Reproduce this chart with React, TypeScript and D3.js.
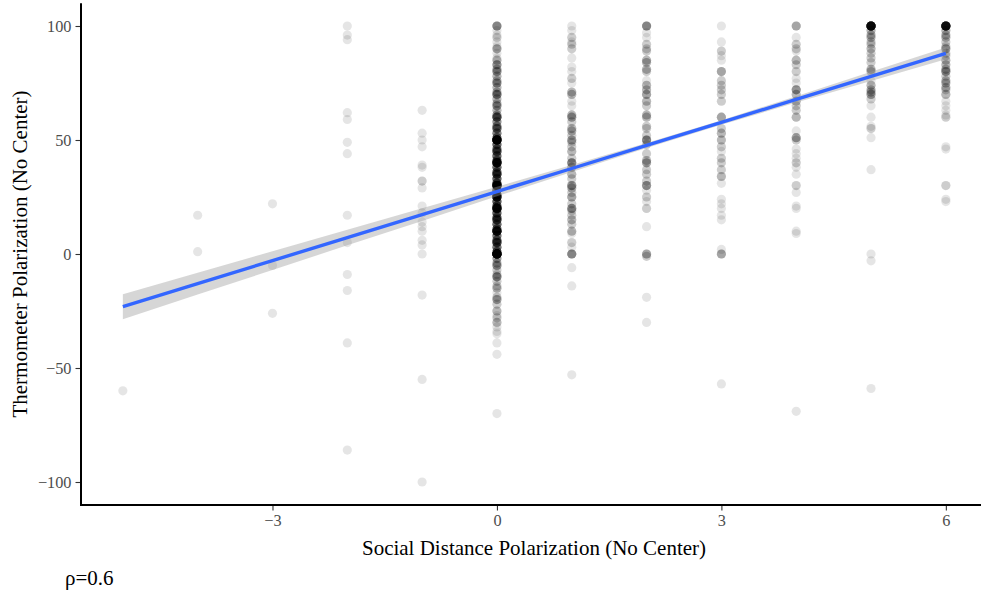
import React, { useEffect, useRef } from 'react';
import * as d3 from 'd3';

// y values per social-distance level, as [thermometer value, count]
const colNeg5 = [[-60, 1]];
const colNeg4 = [[17, 1], [1, 1]];
const colNeg3 = [[22, 1], [-5, 1], [-26, 1]];
const colNeg2 = [[100, 1], [96, 1], [94, 1], [62, 1], [59, 1], [49, 1], [44, 1], [17, 1], [5, 1], [-9, 1], [-16, 1], [-39, 1], [-86, 1]];
const colNeg1 = [[63, 1], [53, 1], [50, 1], [47, 1], [39, 1], [38, 1], [32, 2], [29, 1], [21, 1], [18, 1], [14, 1], [12, 1], [10, 1], [6, 1], [4, 1], [0, 1], [-18, 1], [-55, 1], [-100, 1]];
const col0 = [[100, 6], [98, 1], [96, 1], [95, 2], [93, 1], [91, 1], [90, 4], [88, 1], [86, 1], [85, 3], [83, 5], [81, 3], [80, 5], [78, 3], [76, 3], [75, 5], [73, 3], [71, 3], [70, 7], [68, 3], [66, 3], [65, 5], [63, 3], [61, 4], [60, 10], [58, 5], [56, 5], [55, 8], [53, 6], [51, 7], [50, 32], [48, 8], [46, 7], [45, 10], [43, 8], [41, 8], [40, 25], [38, 8], [36, 8], [35, 12], [33, 9], [31, 9], [30, 28], [28, 9], [26, 9], [25, 20], [23, 9], [21, 9], [20, 25], [18, 9], [16, 8], [15, 12], [13, 8], [11, 8], [10, 22], [8, 7], [6, 7], [5, 12], [3, 7], [1, 8], [0, 40], [-2, 4], [-4, 3], [-5, 5], [-7, 2], [-9, 2], [-10, 6], [-12, 2], [-14, 2], [-15, 3], [-17, 1], [-19, 2], [-20, 4], [-22, 2], [-25, 3], [-27, 1], [-28, 2], [-30, 3], [-32, 1], [-34, 1], [-35, 1], [-39, 1], [-44, 1], [-70, 1]];
const col1 = [[100, 1], [98, 1], [95, 2], [93, 1], [92, 2], [90, 2], [86, 1], [82, 1], [80, 1], [77, 2], [75, 1], [71, 3], [70, 3], [67, 1], [65, 1], [61, 3], [60, 4], [58, 2], [55, 3], [54, 3], [52, 2], [50, 4], [49, 2], [47, 2], [45, 3], [42, 2], [40, 6], [38, 3], [35, 3], [33, 2], [30, 5], [29, 3], [27, 2], [25, 4], [22, 2], [20, 5], [19, 2], [17, 2], [15, 3], [13, 2], [10, 3], [9, 1], [5, 2], [3, 1], [0, 6], [-6, 1], [-14, 1], [-53, 1]];
const col2 = [[100, 6], [97, 1], [95, 1], [92, 2], [90, 2], [89, 2], [85, 3], [84, 3], [81, 3], [80, 2], [76, 1], [74, 3], [72, 3], [70, 4], [67, 3], [65, 2], [61, 3], [60, 3], [56, 2], [55, 2], [52, 2], [50, 6], [48, 2], [44, 2], [41, 3], [40, 4], [37, 2], [35, 2], [32, 2], [30, 5], [28, 1], [25, 2], [23, 1], [20, 2], [12, 1], [0, 4], [-1, 2], [-19, 1], [-30, 1]];
const col3 = [[100, 1], [93, 1], [89, 2], [87, 1], [85, 1], [80, 4], [76, 2], [74, 2], [72, 2], [70, 2], [67, 2], [60, 4], [55, 2], [53, 3], [50, 3], [47, 2], [45, 1], [42, 2], [40, 2], [37, 2], [34, 3], [31, 1], [24, 1], [22, 1], [20, 1], [17, 1], [15, 1], [2, 1], [0, 4], [-57, 1]];
const col4 = [[100, 4], [95, 1], [92, 2], [90, 2], [89, 1], [85, 3], [83, 2], [80, 2], [77, 1], [75, 1], [72, 5], [70, 3], [67, 3], [65, 2], [63, 2], [60, 3], [54, 1], [51, 4], [50, 2], [46, 1], [44, 1], [42, 1], [40, 2], [38, 1], [35, 1], [30, 2], [27, 1], [21, 1], [20, 1], [10, 1], [9, 1], [-69, 1]];
const col5 = [[100, 28], [98, 3], [96, 3], [95, 3], [93, 2], [92, 2], [90, 3], [88, 2], [86, 2], [84, 2], [81, 3], [80, 3], [76, 1], [74, 3], [72, 3], [71, 3], [70, 4], [68, 2], [65, 1], [60, 1], [56, 1], [55, 2], [51, 1], [37, 1], [0, 1], [-3, 1], [-59, 1]];
const col6 = [[100, 25], [98, 3], [96, 3], [95, 3], [93, 2], [91, 2], [90, 4], [88, 2], [87, 2], [85, 3], [83, 3], [81, 3], [80, 5], [78, 2], [76, 3], [75, 3], [73, 3], [72, 2], [70, 3], [67, 1], [65, 1], [63, 1], [61, 1], [60, 2], [47, 1], [46, 1], [30, 2], [24, 1], [23, 1]];

const levels = [-5, -4, -3, -2, -1, 0, 1, 2, 3, 4, 5, 6];
const columns = [colNeg5, colNeg4, colNeg3, colNeg2, colNeg1, col0, col1, col2, col3, col4, col5, col6];

// lm fit and its 95% band, read at each level
const fitY = [-23.1, -13.0, -2.9, 7.2, 17.3, 27.4, 37.5, 47.6, 57.7, 67.8, 77.9, 88.0];
const ciUpper = [-17.6, -8.2, 1.2, 10.6, 20.1, 29.5, 39.0, 48.7, 58.7, 69.2, 79.9, 90.6];
const ciLower = [-28.6, -17.8, -7.0, 3.8, 14.5, 25.3, 36.0, 46.5, 56.7, 66.4, 75.9, 85.4];

const xTicks = [-3, 0, 3, 6];
const yTicks = [-100, -50, 0, 50, 100];

const W = 981, H = 592;
const FONT = '"Liberation Serif", "Times New Roman", serif';

const fmt = (v) => (v < 0 ? '\u2212' + Math.abs(v) : String(v));

const draw = (node) => {
  const svg = d3.select(node);
  svg.selectAll('*').remove();

  const x = d3.scaleLinear().domain([-5.55, 6.55]).range([81.7, 987]);
  const y = d3.scaleLinear().domain([-110, 110]).range([504.8, 3.2]);

  // points
  const pts = [];
  columns.forEach((col, i) => {
    col.forEach(([v, n]) => {
      for (let k = 0; k < n; k++) pts.push({ x: levels[i], y: v });
    });
  });
  svg.append('g')
    .selectAll('circle')
    .data(pts)
    .enter().append('circle')
    .attr('cx', d => x(d.x))
    .attr('cy', d => y(d.y))
    .attr('r', 4.6)
    .attr('fill', '#000')
    .attr('fill-opacity', 0.1);

  // confidence band
  const band = levels.map((l, i) => ({ x: l, lo: ciLower[i], hi: ciUpper[i] }));
  svg.append('path')
    .datum(band)
    .attr('d', d3.area().x(d => x(d.x)).y0(d => y(d.lo)).y1(d => y(d.hi)))
    .attr('fill', '#999999')
    .attr('fill-opacity', 0.4);

  // fit line
  svg.append('path')
    .datum(levels.map((l, i) => ({ x: l, y: fitY[i] })))
    .attr('d', d3.line().x(d => x(d.x)).y(d => y(d.y)))
    .attr('stroke', '#3366FF')
    .attr('stroke-width', 3.4)
    .attr('fill', 'none');

  // axes
  const yAxis = svg.append('g')
    .attr('transform', 'translate(81,0)')
    .call(d3.axisLeft(y).tickValues(yTicks).tickSize(5.5).tickPadding(4).tickSizeOuter(0).tickFormat(fmt));
  yAxis.select('.domain').remove();
  yAxis.selectAll('line').attr('stroke', '#333').attr('stroke-width', 1.1);
  yAxis.selectAll('text').attr('fill', '#4d4d4d').style('font-family', FONT).style('font-size', '16.3px');

  const xAxis = svg.append('g')
    .attr('transform', 'translate(0,505)')
    .call(d3.axisBottom(x).tickValues(xTicks).tickSize(5.5).tickPadding(4).tickSizeOuter(0).tickFormat(fmt));
  xAxis.select('.domain').remove();
  xAxis.selectAll('line').attr('stroke', '#333').attr('stroke-width', 1.1);
  xAxis.selectAll('text').attr('fill', '#4d4d4d').style('font-family', FONT).style('font-size', '16.3px');

  svg.append('line')
    .attr('x1', 81).attr('x2', 81).attr('y1', 3.2).attr('y2', 506)
    .attr('stroke', '#000').attr('stroke-width', 2);
  svg.append('line')
    .attr('x1', 80).attr('x2', 987).attr('y1', 505).attr('y2', 505)
    .attr('stroke', '#000').attr('stroke-width', 2);

  // titles
  svg.append('text')
    .attr('x', 534).attr('y', 555)
    .attr('text-anchor', 'middle')
    .style('font-family', FONT).style('font-size', '21px')
    .text('Social Distance Polarization (No Center)');

  svg.append('text')
    .attr('transform', 'translate(26.5,254) rotate(-90)')
    .attr('text-anchor', 'middle')
    .style('font-family', FONT).style('font-size', '21px')
    .text('Thermometer Polarization (No Center)');

  svg.append('text')
    .attr('x', 65).attr('y', 585)
    .style('font-family', FONT).style('font-size', '21px')
    .text('\u03c1=0.6');
};

export default function App() {
  const ref = useRef(null);
  useEffect(() => {
    draw(ref.current);
  }, []);
  return (
    <svg ref={ref} width={W} height={H}
      style={{ position: 'absolute', left: 0, top: 0, background: '#fff' }} />
  );
}
